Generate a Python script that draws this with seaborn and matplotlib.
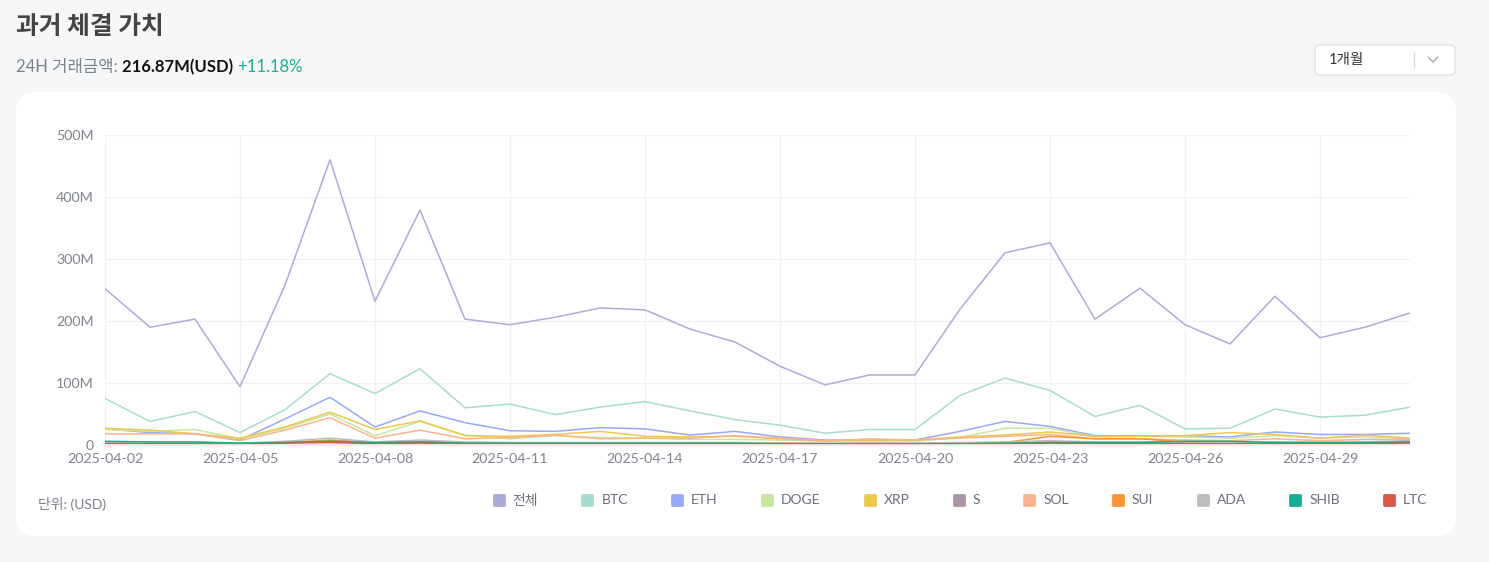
import pandas as pd
import matplotlib
matplotlib.use('Agg')
import matplotlib.pyplot as plt
import matplotlib.dates as mdates
from matplotlib.lines import Line2D
from matplotlib.markers import MarkerStyle
from matplotlib.patches import FancyBboxPatch
from matplotlib.ticker import FuncFormatter
import seaborn as sns

# ---- data (millions USD, daily, 2025-04-02 .. 2025-05-01) ----
dates = pd.date_range('2025-04-02', '2025-05-01', freq='D')
coins = ['전체', 'BTC', 'ETH', 'DOGE', 'XRP', 'S', 'SOL', 'SUI', 'ADA', 'SHIB', 'LTC']

total = [252, 190, 203, 94, 258, 460, 232, 379, 203, 194, 206, 221, 218, 187, 166,
         127, 97, 113, 113, 219, 310, 326, 203, 253, 194, 163, 240, 173, 190, 213]
btc = [75, 38, 54, 20, 57, 115, 83, 123, 60, 66, 49, 61, 70, 55, 41,
       32, 19, 25, 25, 80, 108, 88, 46, 64, 26, 27, 58, 45, 48, 61]
eth = [26, 20, 18, 8, 42, 77, 29, 55, 36, 23, 22, 28, 26, 16, 22,
       13, 8, 8, 8, 22, 38, 30, 15, 15, 15, 13, 21, 17, 17, 19]
doge = [25, 22, 25, 10, 27, 50, 15, 38, 16, 10, 15, 12, 11, 9, 9,
        8, 6, 6, 6, 12, 27, 27, 13, 14, 13, 11, 15, 11, 13, 10]
xrp = [27, 24, 18, 11, 29, 53, 25, 39, 15, 14, 17, 22, 14, 13, 14,
       10, 7, 8, 8, 13, 16, 21, 14, 14, 15, 20, 17, 11, 16, 11]
s_coin = [4, 4, 3, 2, 4, 7, 4, 6, 3, 3, 3, 3, 3, 3, 3,
          3, 2, 2, 2, 3, 4, 5, 4, 4, 4, 3, 4, 3, 4, 6]
sol = [18, 18, 18, 7, 24, 44, 11, 24, 10, 12, 16, 10, 11, 11, 15,
       11, 6, 10, 8, 11, 14, 17, 10, 10, 8, 7, 10, 7, 9, 9]
sui = [3, 3, 3, 2, 4, 8, 3, 5, 3, 3, 3, 3, 3, 3, 3,
       3, 2, 3, 2, 3, 4, 14, 10, 10, 5, 4, 4, 4, 4, 5]
ada = [5, 4, 4, 3, 6, 11, 5, 8, 5, 4, 4, 4, 4, 4, 4,
       3, 3, 3, 3, 4, 5, 7, 5, 5, 5, 4, 5, 4, 5, 7]
shib = [6, 5, 5, 3, 4, 6, 4, 5, 3, 3, 3, 3, 3, 3, 3,
        2, 2, 2, 2, 2, 3, 4, 4, 4, 6, 6, 4, 4, 4, 5]
ltc = [2, 2, 2, 1, 3, 4, 2, 3, 2, 2, 2, 2, 2, 2, 2,
       2, 1, 1, 1, 2, 2, 3, 2, 2, 2, 2, 2, 2, 2, 3]

series = [total, btc, eth, doge, xrp, s_coin, sol, sui, ada, shib, ltc]
colors = ['#abacd6', '#a8dcd1', '#98a8f8', '#c8e6a0', '#eec84a', '#a994ab',
          '#fdb38e', '#fb9434', '#bcbcbc', '#14ae93', '#d65a44']

rows = []
for name, vals in zip(coins, series):
    for d, v in zip(dates, vals):
        rows.append({'date': d, 'coin': name, 'value': v})
df = pd.DataFrame(rows)

sns.set_theme(style='white')
plt.rcParams['font.family'] = ['Lato', 'Noto Sans CJK KR', 'DejaVu Sans']

fig = plt.figure(figsize=(14.89, 5.62), dpi=100)
fig.patch.set_facecolor('#f6f7f9')

# background layer in pixel coordinates
bg = fig.add_axes([0, 0, 1, 1], zorder=0)
bg.set_xlim(0, 1489)
bg.set_ylim(562, 0)
bg.axis('off')
bg.add_patch(FancyBboxPatch((16, 92), 1440, 444, boxstyle='round,pad=0,rounding_size=20',
                            facecolor='white', edgecolor='none'))
bg.add_patch(FancyBboxPatch((1315, 45), 140, 30, boxstyle='round,pad=0,rounding_size=4',
                            facecolor='white', edgecolor='#e2e3e7', linewidth=1))
bg.plot([1414, 1414], [52, 68], color='#dcdde0', linewidth=1)
bg.plot([1428, 1433, 1438], [57, 62, 57], color='#a8abb2', linewidth=1)
bg.text(1329, 60, '1개월', fontsize=10.5, color='#333333', va='center', ha='left')

bg.text(16, 27, '과거 체결 가치', fontsize=17.8, fontweight='bold', color='#444444',
        va='center', ha='left', family=['Noto Sans CJK KR', 'DejaVu Sans'])

# subtitle pieces laid out one after another
renderer = fig.canvas.get_renderer()
x = 16
for txt, wt, col in [('24H 거래금액: ', 'normal', '#7c808a'),
                     ('216.87M(USD) ', 'bold', '#111111'),
                     ('+11.18%', 'normal', '#1aae92')]:
    t = bg.text(x, 67, txt, fontsize=12, fontweight=wt, color=col, va='center', ha='left')
    w = t.get_window_extent(renderer).width
    x += w

bg.text(38, 504, '단위: (USD)', fontsize=10, color='#7c808a', va='center', ha='left')

# chart
ax = fig.add_axes([105 / 1489, 1 - 445 / 562, 1305 / 1489, 310 / 562], zorder=1)
ax.set_facecolor('white')
sns.lineplot(data=df, x='date', y='value', hue='coin', hue_order=coins,
             palette=colors, linewidth=1.1, legend=False, ax=ax)

ax.set_xlim(dates[0], dates[-1])
ax.set_ylim(0, 500)
ax.set_yticks([0, 100, 200, 300, 400, 500])
ax.yaxis.set_major_formatter(FuncFormatter(lambda v, p: '0' if v == 0 else f'{v:.0f}M'))
ax.set_xticks(dates[::3])
ax.xaxis.set_major_formatter(mdates.DateFormatter('%Y-%m-%d'))
ax.grid(True, color='#f1f1f4', linewidth=0.9)
ax.set_xlabel('')
ax.set_ylabel('')
for sp in ['top', 'right', 'left']:
    ax.spines[sp].set_visible(False)
ax.spines['bottom'].set_color('#ececf0')
ax.tick_params(axis='both', length=0, labelsize=10.3, labelcolor='#80848e')
ax.tick_params(axis='y', pad=8)
ax.tick_params(axis='x', pad=6)

# legend
mk = MarkerStyle('s', joinstyle='round')
handles = [Line2D([], [], linestyle='', marker=mk, markersize=7.5, markerfacecolor=c,
                  markeredgecolor=c, markeredgewidth=2) for c in colors]
fig.legend(handles, coins, ncol=len(coins), loc='center right',
           bbox_to_anchor=(1440 / 1489, 1 - 500 / 562), frameon=False,
           fontsize=10, labelcolor='#6b6f7a', handlelength=1.0,
           handletextpad=0.5, columnspacing=3.05)

fig.savefig('out.png', dpi=100, facecolor=fig.get_facecolor())
